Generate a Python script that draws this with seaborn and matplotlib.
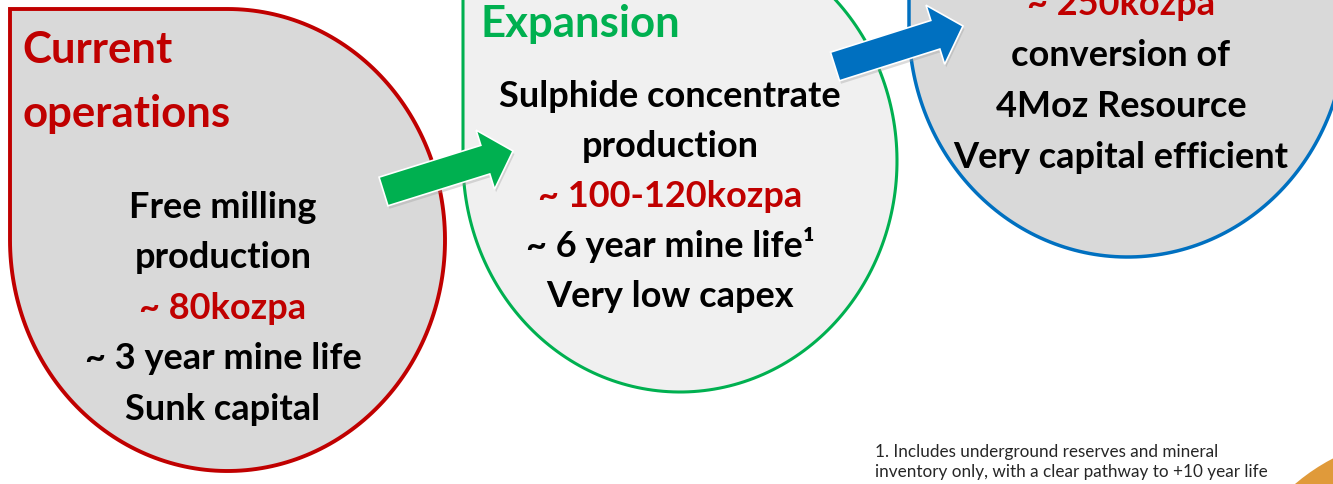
import numpy as np
import matplotlib.pyplot as plt
import seaborn as sns
from matplotlib.patches import Polygon, Circle

# text content of the three stages
current_title = ["Current", "operations"]
current_lines = ["Free milling", "production", "~ 80kozpa", "~ 3 year mine life", "Sunk capital"]
expansion_title = ["Expansion"]
expansion_lines = ["Sulphide concentrate", "production", "~ 100-120kozpa", "~ 6 year mine life\u00b9", "Very low capex"]
future_lines = ["~ 250kozpa", "conversion of", "4Moz Resource", "Very capital efficient"]
highlights = ["~ 80kozpa", "~ 100-120kozpa", "~ 250kozpa"]
footnote = ["1. Includes underground reserves and mineral",
            "inventory only, with a clear pathway to +10 year life"]

RED = "#c00000"
GREEN = "#00b050"
BLUE = "#0070c0"

sns.set_theme(style="white")
plt.rcParams['font.family'] = ['Lato', 'DejaVu Sans']


def teardrop(ax, x0, y0, x1, y1, face, edge, lw=2.5):
    # ellipse with the top-left quadrant squared off
    cx, cy = (x0 + x1) / 2, (y0 + y1) / 2
    rx, ry = (x1 - x0) / 2, (y1 - y0) / 2
    t = np.linspace(-np.pi / 2, np.pi, 200)
    pts = np.column_stack([cx + rx * np.cos(t), cy + ry * np.sin(t)])
    pts = np.vstack([[x0, y0], pts])
    ax.add_patch(Polygon(pts, closed=True, facecolor=face, edgecolor=edge, lw=lw, zorder=1))


def block_arrow(ax, tail, tip, color, shaft=30, head_w=62, head_l=29):
    tail, tip = np.array(tail, float), np.array(tip, float)
    u = (tip - tail) / np.linalg.norm(tip - tail)
    n = np.array([-u[1], u[0]])
    base = tip - u * head_l
    pts = [tail + n * shaft / 2, base + n * shaft / 2, base + n * head_w / 2, tip,
           base - n * head_w / 2, base - n * shaft / 2, tail - n * shaft / 2]
    shadow = [p + np.array([1.5, 3]) for p in pts]
    ax.add_patch(Polygon(shadow, closed=True, facecolor="#9a9a9a", alpha=0.35, lw=0, zorder=3))
    ax.add_patch(Polygon(pts, closed=True, facecolor=color, edgecolor="white", lw=1.2, zorder=4))


def stack(ax, lines, x, y0, step, size, ha="center", title_color=None):
    for i, s in enumerate(lines):
        c = title_color or (RED if s in highlights else "black")
        ax.text(x, y0 + i * step, s, ha=ha, va="baseline", fontsize=size,
                fontweight="bold", color=c, zorder=5)


fig = plt.figure(figsize=(13.33, 4.85), dpi=100)
ax = fig.add_axes([0, 0, 1, 1])
ax.set_xlim(0, 1333)
ax.set_ylim(485, 0)
ax.axis("off")

teardrop(ax, 10, 10, 445, 472, "#d9d9d9", RED, lw=2.8)
teardrop(ax, 463, -69, 897, 393, "#f0f0f0", GREEN, lw=2.2)
teardrop(ax, 909, -204, 1346, 258, "#d9d9d9", BLUE, lw=2.5)
ax.add_patch(Circle((1425, 637), 200, facecolor="#e09a3a", lw=0, zorder=1))

block_arrow(ax, (383.5, 192.5), (513, 152), GREEN)
block_arrow(ax, (835, 67.5), (963, 27), BLUE)

stack(ax, current_title, 22, 63, 64, 31.5, ha="left", title_color=RED)
stack(ax, current_lines, 223, 218, 50.5, 26)
stack(ax, expansion_title, 480, 37, 50, 31.5, ha="left", title_color=GREEN)
stack(ax, expansion_lines, 670, 107, 50, 26)
stack(ax, future_lines, 1121, 15, 51, 26)

for i, s in enumerate(footnote):
    ax.text(875, 457 + i * 20, s, ha="left", va="baseline", fontsize=12.3, color="#262626", zorder=5)

fig.savefig("out.png", dpi=100)
